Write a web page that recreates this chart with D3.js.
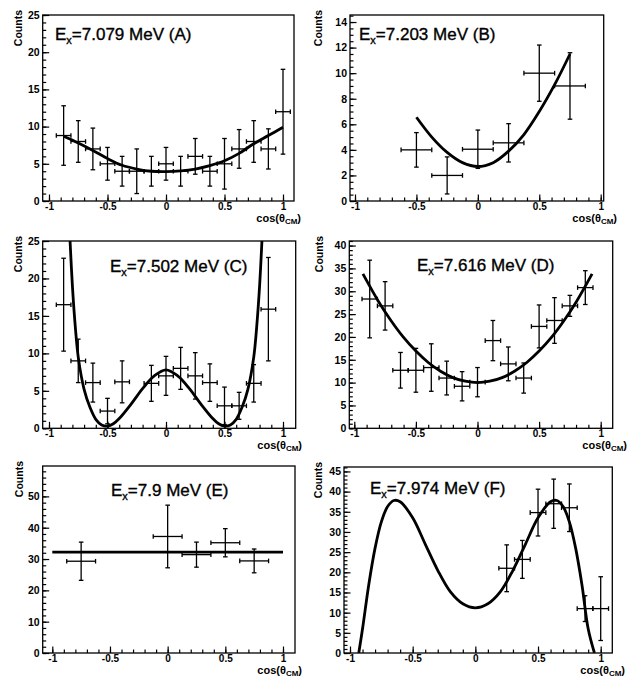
<!DOCTYPE html>
<html>
<head>
<meta charset="utf-8">
<script src="https://cdn.jsdelivr.net/npm/d3@7"></script>
<style>
  body { margin: 0; background: #fff; }
  svg { display: block; }
  .tick text { font-family: "Liberation Sans", Arial, sans-serif; font-weight: bold; font-size: 10.5px; fill: #000; }
  .xaxis .tick text { font-size: 10px; }
  .tick line { stroke: #000; stroke-width: 1.2; }
</style>
</head>
<body>
<svg id="chart" width="630" height="678"></svg>
<script>
// ---- data ----
// (A) Ex = 7.079 MeV
var aX    = [-0.875,-0.75,-0.625,-0.5,-0.375,-0.25,-0.125,0,0.125,0.25,0.375,0.5,0.625,0.75,0.875,1.0];
var aY    = [8.8,8.0,7.0,5.0,4.0,4.0,4.0,5.0,4.0,6.0,4.0,5.0,7.0,8.0,7.0,12.0];
var aErr  = [4.0,2.8,2.8,2.2,2.0,3.0,2.0,2.2,2.0,2.4,2.0,3.4,2.6,2.8,2.7,5.7];
var aFitX = [-0.875,-0.75,-0.625,-0.5,-0.375,-0.25,-0.125,0,0.125,0.25,0.375,0.5,0.625,0.75,0.875,1.0];
var aFitY = [8.7,7.8,6.8,5.7,4.8,4.3,4.0,3.95,4.05,4.3,4.75,5.4,6.4,7.7,8.8,9.9];

// (B) Ex = 7.203 MeV
var bX    = [-0.5,-0.25,0,0.25,0.5,0.75];
var bY    = [4.0,2.0,4.05,4.55,10.0,9.0];
var bErr  = [1.35,1.45,1.5,1.5,2.2,2.6];
var bFitX = [-0.5,-0.375,-0.25,-0.125,0,0.125,0.25,0.375,0.5,0.625,0.75];
var bFitY = [6.55,5.0,3.8,3.0,2.7,3.0,3.9,5.2,7.0,9.1,11.5];

// (C) Ex = 7.502 MeV
var cX    = [-0.875,-0.75,-0.625,-0.5,-0.375,-0.125,0,0.125,0.25,0.375,0.5,0.625,0.75,0.875];
var cY    = [16.5,9.0,6.1,2.3,6.2,6.0,7.0,8.0,7.0,6.1,3.0,3.0,6.0,15.9];
var cErr  = [6.2,2.9,2.6,1.7,2.8,2.4,2.6,2.8,3.1,2.5,2.5,1.8,2.5,6.9];
var cFitX = [-0.82,-0.8,-0.775,-0.75,-0.7,-0.65,-0.6,-0.55,-0.5,-0.45,-0.4,-0.3,-0.2,-0.1,0,
             0.1,0.2,0.3,0.4,0.45,0.5,0.55,0.6,0.65,0.7,0.75,0.775,0.8,0.82];
var cFitY = [25,19,13.5,9.5,5.2,2.8,1.2,0.45,0.3,0.6,1.3,3.2,5.3,7.0,7.8,
             7.0,5.3,3.2,1.3,0.6,0.3,0.45,1.2,2.8,5.2,9.5,13.5,19,25];

// (D) Ex = 7.616 MeV
var dX    = [-0.875,-0.75,-0.625,-0.5,-0.375,-0.25,-0.125,0,0.125,0.25,0.375,0.5,0.625,0.75,0.875];
var dY    = [28.3,26.8,12.7,12.7,13.3,11.0,9.2,10.1,19.2,14.1,11.0,22.3,23.6,26.8,30.8];
var dErr  = [8.5,5.3,3.9,4.8,5.2,3.7,3.2,3.2,4.4,3.7,3.3,4.7,5.0,2.3,3.7];
var dFitX = [-0.93,-0.8,-0.7,-0.6,-0.5,-0.4,-0.3,-0.2,-0.1,0,0.1,0.2,0.3,0.4,0.5,0.6,0.7,0.8,0.93];
var dFitY = [33.8,27.6,23.5,19.9,16.9,14.4,12.5,11.1,10.3,10.0,10.3,11.1,12.5,14.4,16.9,19.9,23.5,27.6,33.8];

// (E) Ex = 7.9 MeV
var eX    = [-0.75,0,0.25,0.5,0.75];
var eY    = [29.3,37.2,31.4,35.2,29.4];
var eErr  = [6.1,10.0,4.0,4.5,3.8];
var eFitX = [-1,1];
var eFitY = [32.2,32.2];

// (F) Ex = 7.974 MeV
var fX    = [0.25,0.375,0.5,0.625,0.75,0.875,1.0];
var fY    = [21.0,23.2,34.8,37.0,36.0,11.0,11.0];
var fErr  = [5.8,4.7,5.8,6.1,5.9,3.2,7.9];
var fFitX = [-0.93,-0.9,-0.85,-0.8,-0.75,-0.7,-0.65,-0.6,-0.5,-0.4,-0.3,-0.2,-0.1,0,
             0.1,0.2,0.3,0.4,0.5,0.6,0.65,0.7,0.75,0.8,0.85,0.9,0.95];
var fFitY = [0,6,17,26,32.5,36.3,37.8,37.5,33.5,27,20.5,15.2,12.2,11.2,
             12.2,15.2,20.5,27,33.5,37.5,37.8,36.3,32.5,26,17,6,0];

var xTicks = [-1,-0.5,0,0.5,1];

// panel layout: frame box, pixel positions of x=-1 and x=1, y axis range
var panels = [
  {tag:"A", ex:"7.079", xs:aX, ys:aY, err:aErr, xerr:0.0625, fx:aFitX, fy:aFitY,
   box:[42.7,15,294,201], x1:[49,283], yMax:25, yMaj:5, yMin:1, titleX:55, titleY:39.5, countsX:21.5, xlabR:301},
  {tag:"B", ex:"7.203", xs:bX, ys:bY, err:bErr, xerr:0.125, fx:bFitX, fy:bFitY,
   box:[350,15,603.7,201], x1:[355,600.7], yMax:14.55, yMaj:2, yMin:0.5, titleX:359, titleY:39.5, countsX:322, xlabR:617},
  {tag:"C", ex:"7.502", xs:cX, ys:cY, err:cErr, xerr:0.0625, fx:cFitX, fy:cFitY,
   box:[42.7,241,295.7,428.3], x1:[49,283], yMax:25, yMaj:5, yMin:1, titleX:110, titleY:272, countsX:22, xlabR:302},
  {tag:"D", ex:"7.616", xs:dX, ys:dY, err:dErr, xerr:0.0625, fx:dFitX, fy:dFitY,
   box:[349.3,241,612.7,428.3], x1:[354.3,600.7], yMax:41, yMaj:5, yMin:1, titleX:417, titleY:271, countsX:323, xlabR:627},
  {tag:"E", ex:"7.9", xs:eX, ys:eY, err:eErr, xerr:0.125, fx:eFitX, fy:eFitY,
   box:[42.7,466,295,653], x1:[52.3,283], yMax:59.7, yMaj:10, yMin:2, titleX:111, titleY:495.5, countsX:23, xlabR:302},
  {tag:"F", ex:"7.974", xs:fX, ys:fY, err:fErr, xerr:0.0625, fx:fFitX, fy:fFitY,
   box:[344,467,612.3,653], x1:[350,600.7], yMax:46.1, yMaj:5, yMin:1, titleX:370, titleY:494, countsX:322, xlabR:625}
];

var svg = d3.select("#chart");
var font = '"Liberation Sans", Arial, sans-serif';

panels.forEach(function(p, pi) {
  var L = p.box[0], T = p.box[1], R = p.box[2], B = p.box[3];
  var x = d3.scaleLinear().domain([-1, 1]).range(p.x1);
  var y = d3.scaleLinear().domain([0, p.yMax]).range([B, T]);
  var g = svg.append("g");

  g.append("clipPath").attr("id", "clip" + pi)
    .append("rect").attr("x", L).attr("y", T).attr("width", R - L).attr("height", B - T);

  // minor ticks
  var xMinor = d3.range(-10, 11).map(function(i) { return i / 10; })
    .filter(function(v) { return x(v) >= L && x(v) <= R; });
  g.append("g").attr("transform", "translate(0," + B + ")")
    .call(d3.axisBottom(x).tickValues(xMinor).tickSize(-3.5).tickFormat(function() { return ""; }))
    .call(function(s) { s.select(".domain").remove(); });
  var yMinor = d3.range(0, p.yMax + 1e-9, p.yMin);
  g.append("g").attr("transform", "translate(" + L + ",0)")
    .call(d3.axisLeft(y).tickValues(yMinor).tickSize(-3.5).tickFormat(function() { return ""; }))
    .call(function(s) { s.select(".domain").remove(); });

  // major ticks + labels
  g.append("g").attr("class", "xaxis").attr("transform", "translate(0," + B + ")")
    .call(d3.axisBottom(x).tickValues(xTicks).tickSizeInner(-6.5).tickSizeOuter(0).tickPadding(1.5)
      .tickFormat(function(d) { return String(d); }))
    .call(function(s) { s.select(".domain").remove(); });
  var yMajor = d3.range(0, p.yMax + 1e-9, p.yMaj);
  g.append("g").attr("transform", "translate(" + L + ",0)")
    .call(d3.axisLeft(y).tickValues(yMajor).tickSizeInner(-6.5).tickSizeOuter(0).tickPadding(3)
      .tickFormat(function(d) { return String(d); }))
    .call(function(s) { s.select(".domain").remove(); });

  // frame
  g.append("rect").attr("x", L).attr("y", T).attr("width", R - L).attr("height", B - T)
    .attr("fill", "none").attr("stroke", "#000").attr("stroke-width", 1.3);

  // fit curve
  var pts = p.fx.map(function(v, i) { return [v, p.fy[i]]; });
  g.append("path").datum(pts)
    .attr("clip-path", "url(#clip" + pi + ")")
    .attr("fill", "none").attr("stroke", "#000").attr("stroke-width", 2.8)
    .attr("d", d3.line().x(function(d) { return x(d[0]); }).y(function(d) { return y(d[1]); })
      .curve(d3.curveCatmullRom.alpha(0.5)));

  // data points with error bars
  var cap = 2.3;
  var pt = g.append("g").attr("stroke", "#000").attr("stroke-width", 1.3).attr("fill", "none")
    .selectAll("g").data(p.xs.map(function(v, i) { return {x: v, y: p.ys[i], e: p.err[i]}; }))
    .enter().append("g");
  pt.append("line")
    .attr("x1", function(d) { return x(d.x); }).attr("x2", function(d) { return x(d.x); })
    .attr("y1", function(d) { return y(d.y - d.e); }).attr("y2", function(d) { return y(d.y + d.e); });
  pt.append("line")
    .attr("x1", function(d) { return x(d.x - p.xerr); }).attr("x2", function(d) { return x(d.x + p.xerr); })
    .attr("y1", function(d) { return y(d.y); }).attr("y2", function(d) { return y(d.y); });
  [-1, 1].forEach(function(s) {
    pt.append("line")
      .attr("x1", function(d) { return x(d.x) - cap; }).attr("x2", function(d) { return x(d.x) + cap; })
      .attr("y1", function(d) { return y(d.y + s * d.e); }).attr("y2", function(d) { return y(d.y + s * d.e); });
    pt.append("line")
      .attr("x1", function(d) { return x(d.x + s * p.xerr); }).attr("x2", function(d) { return x(d.x + s * p.xerr); })
      .attr("y1", function(d) { return y(d.y) - cap; }).attr("y2", function(d) { return y(d.y) + cap; });
  });

  // title
  var t = g.append("text").attr("x", p.titleX).attr("y", p.titleY)
    .attr("font-family", font).attr("font-size", 17).attr("fill", "#000")
    .attr("stroke", "#000").attr("stroke-width", 0.35);
  t.append("tspan").text("E");
  t.append("tspan").attr("font-size", 11).attr("dy", 4).text("x");
  t.append("tspan").attr("dy", -4).text("=" + p.ex + " MeV (" + p.tag + ")");

  // axis titles
  g.append("text").attr("transform", "translate(" + p.countsX + "," + (T - 5) + ") rotate(-90)")
    .attr("text-anchor", "end").attr("font-family", font).attr("font-weight", "bold")
    .attr("font-size", 10.5).text("Counts");
  var xl = g.append("text").attr("x", p.xlabR).attr("y", B + 20.8).attr("text-anchor", "end")
    .attr("font-family", font).attr("font-weight", "bold").attr("font-size", 11);
  xl.append("tspan").text("cos(\u03b8");
  xl.append("tspan").attr("font-size", 8).attr("dy", 1.8).text("CM");
  xl.append("tspan").attr("dy", -1.8).text(")");
});
</script>
</body>
</html>
